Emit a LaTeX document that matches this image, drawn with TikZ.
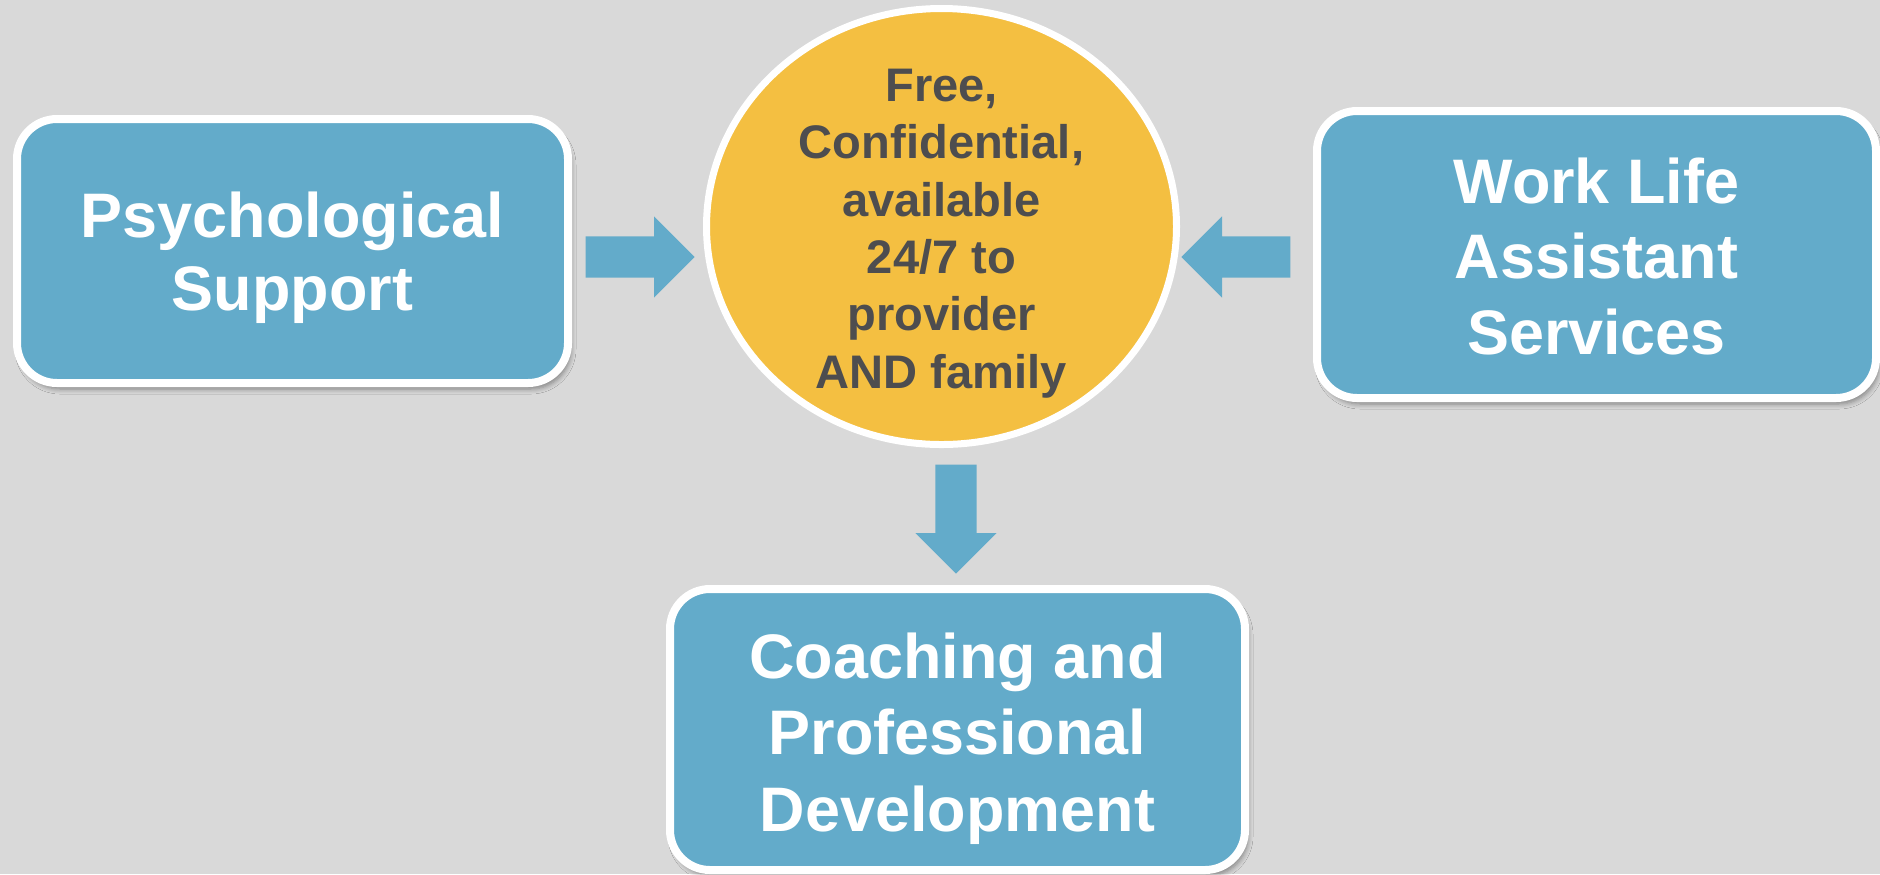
\documentclass[tikz,border=0pt]{standalone}
\usepackage{fontspec}
\setmainfont{Liberation Sans}
\usepackage{tikz}
\usepackage{xcolor}
\usetikzlibrary{
  positioning, arrows.meta, shapes.geometric, shapes.arrows, calc, shadows.blur,
}
\definecolor{pageGrey} {HTML}{D9D9D9}
\definecolor{tileBlue} {HTML}{63ABCA}
\definecolor{hubGold}  {HTML}{F4BF41}
\definecolor{hubInk}   {HTML}{4D4D4F}

\tikzset{
  tile/.style={rectangle, rounded corners=4mm, fill=tileBlue, draw=white,
    line width=0.8mm, text=white, align=center, inner sep=0pt,
    font=\bfseries\fontsize{17.9}{21.6}\selectfont,
    blur shadow={shadow xshift=0.3mm, shadow yshift=-0.6mm,
                 shadow blur steps=6, shadow blur radius=0.5mm,
                 shadow opacity=40}},
  flowarrow/.style={single arrow, fill=tileBlue, draw=none, anchor=tail,
    minimum height=10.9mm, minimum width=8mm, inner xsep=0pt, inner ysep=2mm,
    single arrow head extend=2mm, single arrow head indent=0pt},
}

\begin{document}
\begin{tikzpicture}
  % page
  \fill[pageGrey] (0,0) rectangle (18.8,-8.74);
  \useasboundingbox (0,0) rectangle (18.8,-8.74);

  % centre ellipse and its text
  \node[ellipse, fill=hubGold, draw=white, line width=0.7mm,
        minimum width=4.70cm, minimum height=4.36cm]
    (hub) at (9.415,-2.265) {};
  \node[align=center, text=hubInk, inner sep=0pt, yshift=-0.07cm,
        font=\bfseries\fontsize{13.4}{16.3}\selectfont]
    (hublabel) at (hub) {Free,\\Confidential,\\available\\24/7 to\\provider\\AND family};

  % service tiles
  \node[tile, minimum width=5.51cm, minimum height=2.64cm]
    (psych) at (2.925,-2.51) {};
  \node[text=white, align=center, yshift=-0.07cm,
        font=\bfseries\fontsize{17.9}{20.8}\selectfont]
    (psychlabel) at (psych) {Psychological\\Support};
  \node[tile, minimum width=5.59cm, minimum height=2.87cm]
    (worklife) at (15.965,-2.545) {};
  \node[text=white, align=center, yshift=-0.02cm,
        font=\bfseries\fontsize{17.9}{21.6}\selectfont]
    (worklifelabel) at (worklife) {Work Life\\Assistant\\Services};
  \node[tile, minimum width=5.75cm, minimum height=2.81cm]
    (coaching) at (9.575,-7.295) {};
  \node[text=white, align=center, yshift=-0.09cm,
        font=\bfseries\fontsize{17.9}{21.7}\selectfont]
    (coachinglabel) at (coaching) {Coaching and\\Professional\\Development};

  % block arrows into and out of the hub
  \node[flowarrow] (arrpsych) at (5.85,-2.57) {};
  \node[flowarrow, rotate=180] (arrwork) at (12.91,-2.57) {};
  \node[flowarrow, rotate=-90] (arrcoach) at (9.56,-4.64) {};
\end{tikzpicture}
\end{document}
